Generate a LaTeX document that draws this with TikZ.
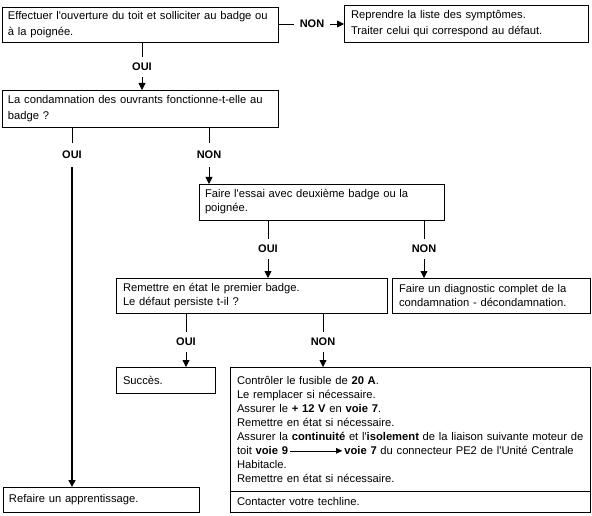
\documentclass[tikz,border=0pt]{standalone}
\usepackage{fontspec}
\setmainfont{Liberation Sans}
\usetikzlibrary{arrows.meta}
\begin{document}
\begin{tikzpicture}[x=1pt,y=-1pt,
  box/.style={draw, line width=0.8pt, anchor=north west, align=left, inner xsep=6pt, inner ysep=0pt, outer sep=0pt, font=\fontsize{11.2}{14}\selectfont},
  boxw/.style={box, font=\fontsize{11.2}{15.5}\selectfont},
  lab/.style={font=\fontsize{11}{13}\selectfont\bfseries, inner xsep=6pt, inner ysep=0pt, minimum height=20pt},
  labt/.style={lab, minimum height=24pt},
  conn/.style={line width=0.8pt},
  arr/.style={line width=0.8pt, -{Triangle[length=7pt,width=7pt]}},
  thickarr/.style={line width=1.6pt, -{Triangle[length=7pt,width=7pt]}}]
\useasboundingbox (0,0) rectangle (592,516);

\node[boxw, minimum width=276pt, minimum height=35pt, text width=264pt] (b1) at (2,7)
  {Effectuer l\textquotesingle ouverture du toit et solliciter au badge ou\\à la poignée.};
\node[boxw, minimum width=244pt, minimum height=37pt, text width=230pt, inner xsep=7pt] (b3) at (344,5)
  {Reprendre la liste des symptômes.\\Traiter celui qui correspond au défaut.};
\node[boxw, minimum width=276pt, minimum height=37pt, text width=264pt] (b2) at (2,90)
  {La condamnation des ouvrants fonctionne-t-elle au\\badge ?};
\node[box, minimum width=245pt, minimum height=36pt, text width=233pt] (b4) at (199,184)
  {Faire l\textquotesingle essai avec deuxième badge ou la\\poignée.};
\node[box, minimum width=271pt, minimum height=35pt, text width=257pt, inner xsep=7pt] (b5) at (116,278)
  {Remettre en état le premier badge.\\Le défaut persiste t-il ?};
\node[box, minimum width=198pt, minimum height=35pt, text width=184pt, inner xsep=7pt] (b6) at (392,278)
  {Faire un diagnostic complet de la\\condamnation - décondamnation.};
\node[box, minimum width=99pt, minimum height=26pt, text width=85pt, inner xsep=7pt] (b7) at (116,367)
  {Succès.};
\node[box, minimum width=196pt, minimum height=25pt, text width=184pt] (b8) at (3,487)
  {Refaire un apprentissage.};
\node[box, minimum width=360pt, minimum height=124pt, text width=346pt, inner xsep=7pt] (b9) at (230,367)
  {Contrôler le fusible de \textbf{20 A}.\\
   Le remplacer si nécessaire.\\
   Assurer le \textbf{+ 12 V} en \textbf{voie 7}.\\
   Remettre en état si nécessaire.\\
   \mbox{Assurer la \textbf{continuité} et l\textquotesingle\textbf{isolement} de la liaison suivante moteur de}\\
   \mbox{toit \textbf{voie 9}\,\tikz[x=1pt,y=1pt,baseline=-3.2pt]\draw[line width=0.6pt,-{Triangle[length=6pt,width=5.5pt]}] (0,0) -- (52,0);\,\textbf{voie 7} du connecteur PE2 de l\textquotesingle Unité Centrale}\\
   Habitacle.\\
   Remettre en état si nécessaire.};
\node[box, minimum width=360pt, minimum height=21pt, text width=346pt, inner xsep=7pt] (b10) at (230,491)
  {Contacter votre techline.};

% labels
\node[lab] (L1) at (142,67) {OUI};
\node[lab] (L2) at (312,24) {NON};
\node[labt] (L3) at (72,155) {OUI};
\node[labt] (L4) at (209,155) {NON};
\node[lab] (L5) at (268,249) {OUI};
\node[lab] (L6) at (424,249) {NON};
\node[lab] (L7) at (186,342) {OUI};
\node[lab] (L8) at (323,342) {NON};

% connectors
\draw[conn] (L1 |- b1.south) -- (L1.north);
\draw[arr] (L1.south) -- (L1 |- b2.north);
\draw[conn] (b1.east |- L2) -- (L2.west);
\draw[arr] (L2.east) -- (b3.west |- L2);
\draw[conn] (L3 |- b2.south) -- (L3.north);
\draw[thickarr] (L3.south) -- (L3 |- b8.north);
\draw[conn] (L4 |- b2.south) -- (L4.north);
\draw[arr] (L4.south) -- (L4 |- b4.north);
\draw[conn] (L5 |- b4.south) -- (L5.north);
\draw[arr] (L5.south) -- (L5 |- b5.north);
\draw[conn] (L6 |- b4.south) -- (L6.north);
\draw[arr] (L6.south) -- (L6 |- b6.north);
\draw[conn] (L7 |- b5.south) -- (L7.north);
\draw[arr] (L7.south) -- (L7 |- b7.north);
\draw[conn] (L8 |- b5.south) -- (L8.north);
\draw[arr] (L8.south) -- (L8 |- b9.north);
\end{tikzpicture}
\end{document}
